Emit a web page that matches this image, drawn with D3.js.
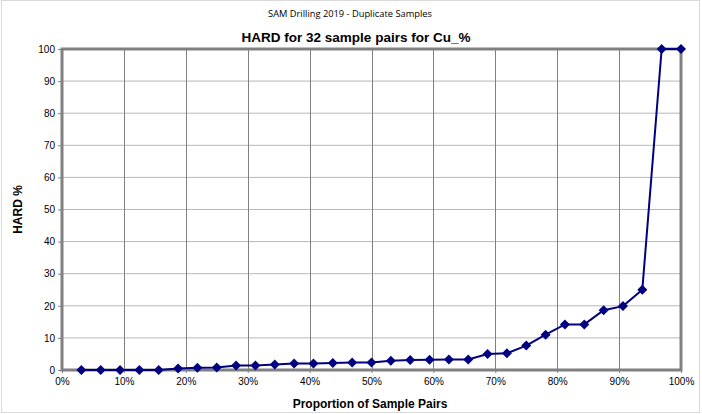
<!DOCTYPE html>
<html>
<head>
<meta charset="utf-8">
<script src="https://cdn.jsdelivr.net/npm/d3@7"></script>
<style>
  body { margin: 0; background: #fff; }
  text { font-family: "Liberation Sans", Arial, sans-serif; }
</style>
</head>
<body>
<div id="chart"></div>
<script>
const nPairs = 32
// proportion of sample pairs (i / 32)
const proportions = d3.range(1, nPairs + 1).map(i => i / nPairs)
const hardValues = [0, 0, 0, 0, 0, 0.5, 0.7, 0.8, 1.4, 1.4, 1.7, 2.0, 2.0, 2.2, 2.3, 2.3,
    2.9, 3.1, 3.2, 3.3, 3.3, 5.0, 5.2, 7.6, 11.0, 14.2, 14.2, 18.6, 19.9, 25.0, 100, 100]
const yTicks = d3.range(0, 101, 10)
const xTicks = d3.range(0, 1.01, 0.1)

const W = 702, H = 414
const margin = { left: 62, right: 21, top: 49, bottom: 44 }

const svg = d3.select('#chart').append('svg')
    .attr('width', W)
    .attr('height', H)

// outer frame
svg.append('rect')
    .attr('x', 1.5).attr('y', 0.5)
    .attr('width', W - 4).attr('height', H - 2)
    .attr('fill', 'none').attr('stroke', '#d9d9d9')

const x = d3.scaleLinear().domain([0, 1]).range([margin.left, W - margin.right])
const y = d3.scaleLinear().domain([0, 100]).range([H - margin.bottom, margin.top])

// gridlines
svg.append('g').selectAll('line').data(yTicks.slice(1))
    .enter().append('line')
    .attr('x1', x(0)).attr('x2', x(1))
    .attr('y1', d => y(d)).attr('y2', d => y(d))
    .attr('stroke', '#b8b8b8').attr('stroke-width', 1)

svg.append('g').selectAll('line').data(xTicks.slice(1, -1))
    .enter().append('line')
    .attr('x1', d => Math.round(x(d)) + 0.5).attr('x2', d => Math.round(x(d)) + 0.5)
    .attr('y1', y(100)).attr('y2', y(0))
    .attr('stroke', '#808080').attr('stroke-width', 1)

// axes
const yAxis = svg.append('g')
    .attr('transform', `translate(${x(0)},0)`)
    .call(d3.axisLeft(y).tickValues(yTicks).tickSize(4).tickPadding(3))
const xAxis = svg.append('g')
    .attr('transform', `translate(0,${y(0)})`)
    .call(d3.axisBottom(x).tickValues(xTicks).tickFormat(d3.format('.0%')).tickSize(3).tickPadding(5))

;[yAxis, xAxis].forEach(a => {
    a.select('.domain').remove()
    a.selectAll('.tick line').attr('stroke', '#808080')
    a.selectAll('.tick text').attr('font-size', 10).attr('fill', '#000')
        .attr('font-family', '"Liberation Sans", Arial, sans-serif')
})

// plot border (thick gray)
svg.append('rect')
    .attr('x', x(0)).attr('y', y(100))
    .attr('width', x(1) - x(0)).attr('height', y(0) - y(100))
    .attr('fill', 'none').attr('stroke', '#808080').attr('stroke-width', 3)

// series
const pts = proportions.map((p, i) => ({ p: p, v: hardValues[i] }))
svg.append('path').datum(pts)
    .attr('fill', 'none')
    .attr('stroke', '#000080')
    .attr('stroke-width', 2)
    .attr('d', d3.line().x(d => x(d.p)).y(d => y(d.v)))

svg.append('g').selectAll('path').data(pts)
    .enter().append('path')
    .attr('transform', d => `translate(${x(d.p)},${y(d.v)})`)
    .attr('d', 'M0,-5L5,0L0,5L-5,0Z')
    .attr('fill', '#000080')

// titles
svg.append('text')
    .attr('x', 350).attr('y', 17)
    .attr('text-anchor', 'middle')
    .attr('font-size', 9.3)
    .style('font-family', '"Open Sans", sans-serif')
    .text('SAM Drilling 2019 - Duplicate Samples')

svg.append('text')
    .attr('x', 356).attr('y', 42)
    .attr('text-anchor', 'middle')
    .attr('font-size', 13.5).attr('font-weight', 'bold')
    .text('HARD for 32 sample pairs for Cu_%')

svg.append('text')
    .attr('x', 370).attr('y', 408)
    .attr('text-anchor', 'middle')
    .attr('font-size', 12).attr('font-weight', 'bold')
    .text('Proportion of Sample Pairs')

svg.append('text')
    .attr('transform', `translate(22,${(y(0) + y(100)) / 2}) rotate(-90)`)
    .attr('text-anchor', 'middle')
    .attr('font-size', 12).attr('font-weight', 'bold')
    .text('HARD %')
</script>
</body>
</html>
